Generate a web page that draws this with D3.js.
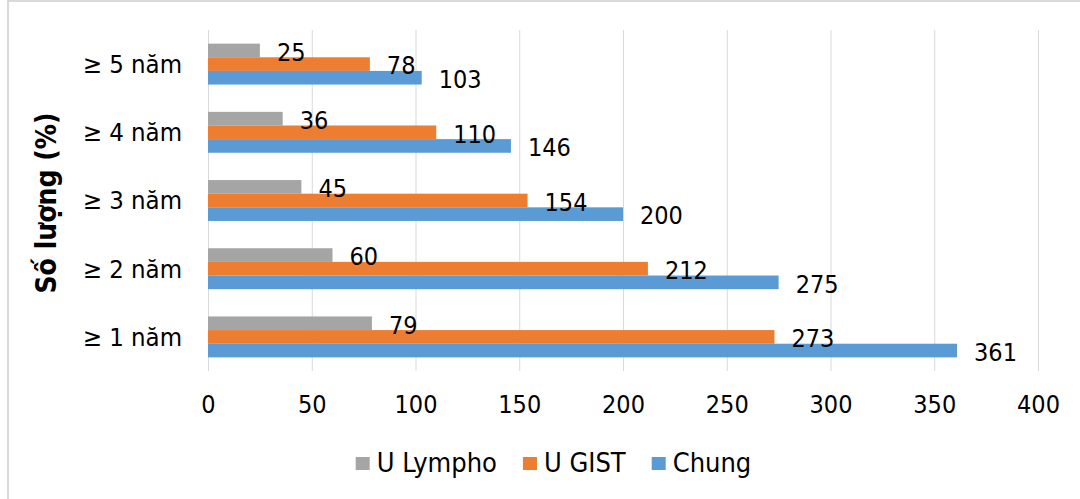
<!DOCTYPE html>
<html><head><meta charset="utf-8">
<script src="https://cdn.jsdelivr.net/npm/d3@7"></script>
<style>
html,body{margin:0;padding:0;background:#fff;}
text{font-family:"DejaVu Sans Condensed","Liberation Sans",sans-serif;fill:#000;}
</style></head>
<body><svg id="chart" width="1080" height="499"></svg>
<script>
const categories = ["≥ 5 năm", "≥ 4 năm", "≥ 3 năm", "≥ 2 năm", "≥ 1 năm"];
const seriesNames = ["U Lympho", "U GIST", "Chung"];
const lympho = [25, 36, 45, 60, 79];
const gist = [78, 110, 154, 212, 273];
const chung = [103, 146, 200, 275, 361];
const xTicks = [0, 50, 100, 150, 200, 250, 300, 350, 400];
const colors = ["#a5a5a5", "#ed7d31", "#5b9bd5"];
const yTitle = "Số lượng (%)";

const seriesValues = [lympho, gist, chung];
const svg = d3.select("#chart");

// outer border
svg.append("rect").attr("x", 8).attr("y", 1).attr("width", 1090).attr("height", 520)
  .attr("fill", "none").attr("stroke", "#d9d9d9").attr("stroke-width", 2);

const x = d3.scaleLinear().domain([0, 400]).range([208, 1038]);
const y = d3.scaleBand().domain(categories).range([30, 371]).paddingInner(0.4).paddingOuter(0.2);
const ySub = d3.scaleBand().domain(seriesNames).range([0, y.bandwidth()]);

// gridlines
svg.append("g").selectAll("line").data(xTicks).join("line")
  .attr("x1", d => x(d) + 0.5).attr("x2", d => x(d) + 0.5)
  .attr("y1", 30).attr("y2", 371)
  .attr("stroke", "#d9d9d9").attr("stroke-width", 1);

// x axis tick labels
const xAxis = d3.axisBottom(x).tickValues(xTicks).tickSize(0).tickPadding(0);
const gx = svg.append("g").attr("transform", "translate(0,371)").call(xAxis);
gx.select(".domain").remove();
gx.selectAll("text").attr("font-size", 25).attr("dy", null).attr("y", 42)
  .style("font-family", '"DejaVu Sans Condensed","Liberation Sans",sans-serif').attr("fill", "#000");

// y axis category labels
const yAxis = d3.axisLeft(y).tickSize(0).tickPadding(0);
const gy = svg.append("g").attr("transform", "translate(182,0)").call(yAxis);
gy.select(".domain").remove();
gy.selectAll("text").attr("font-size", 25.5).attr("dy", "0.35em")
  .style("font-family", '"DejaVu Sans Condensed","Liberation Sans",sans-serif').attr("fill", "#000");

// bars
const barsG = svg.append("g");
const labelsG = svg.append("g");
seriesNames.forEach((s, si) => {
  barsG.append("g").selectAll("rect").data(categories).join("rect")
    .attr("x", x(0))
    .attr("y", (c) => y(c) + ySub(s))
    .attr("width", (c, i) => x(seriesValues[si][i]) - x(0))
    .attr("height", ySub.bandwidth())
    .attr("fill", colors[si]);
  labelsG.append("g").selectAll("text").data(categories).join("text")
    .attr("x", (c, i) => x(seriesValues[si][i]) + 17)
    .attr("y", (c) => y(c) + ySub(s) + ySub.bandwidth() / 2 + 1.5)
    .attr("dy", "0.35em")
    .attr("font-size", 25)
    .text((c, i) => seriesValues[si][i]);
});

// y title
svg.append("text")
  .attr("transform", "translate(46,203) rotate(-90)")
  .attr("text-anchor", "middle").attr("dy", "0.35em")
  .attr("font-size", 28).attr("font-weight", "bold")
  .text(yTitle);

// legend
const legend = svg.append("g");
let lx = 0;
seriesNames.forEach((s, i) => {
  const it = legend.append("g").attr("transform", `translate(${lx},0)`);
  it.append("rect").attr("x", 0).attr("y", -6).attr("width", 14).attr("height", 13).attr("fill", colors[i]);
  const t = it.append("text").attr("x", 21).attr("dy", "0.35em").attr("font-size", 27).text(s);
  const w = t.node().getComputedTextLength();
  lx += 21 + w + 26;
});
const totalW = lx - 26;
legend.attr("transform", `translate(${553.5 - totalW / 2},463)`);
</script></body></html>
